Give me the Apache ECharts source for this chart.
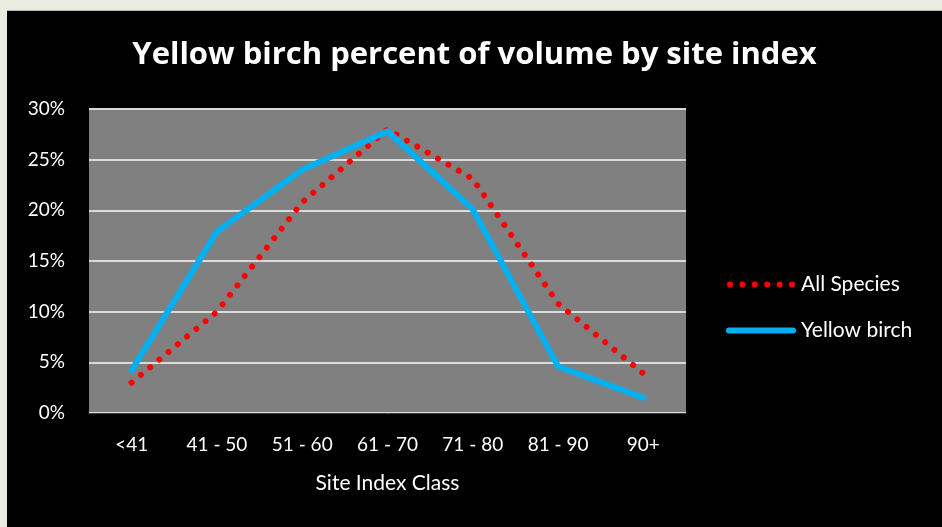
<!DOCTYPE html>
<html>
<head>
<meta charset="utf-8">
<script src="https://cdn.jsdelivr.net/npm/echarts@6/dist/echarts.min.js"></script>
<style>
  html, body { margin: 0; padding: 0; background: #ecebe1; width: 942px; height: 527px; overflow: hidden; }
  #chart { position: absolute; left: 7px; top: 10px; width: 935px; height: 517px; border-top: 1px solid #b8b8b0; box-sizing: border-box; }
</style>
</head>
<body>
<div id="chart"></div>
<script>
// site index classes and percent of volume (%)
const categories = ['<41', '41 - 50', '51 - 60', '61 - 70', '71 - 80', '81 - 90', '90+']
const allSpecies = [3.0, 10.0, 20.8, 28.0, 23.1, 10.8, 3.9]
const yellowBirch = [4.2, 17.9, 24.0, 27.8, 20.1, 4.6, 1.5]
const yTicks = [0, 5, 10, 15, 20, 25, 30]

const font = 'Lato, "Open Sans", sans-serif'

// legend icons: six round dots / a rounded bar
const dotsIcon = 'path://' + [0, 1, 2, 3, 4, 5].map((i) => {
  const x = i * 12.4
  return 'M' + x + ',3a3,3 0 1,0 6,0a3,3 0 1,0 -6,0Z'
}).join('')
const barIcon = 'path://M3,0L69,0A3,3 0 0 1 69,6L3,6A3,3 0 0 1 3,0Z'

const chart = echarts.init(document.getElementById('chart'))

chart.setOption({
  backgroundColor: '#000000',
  textStyle: { fontFamily: font },
  title: {
    text: 'Yellow birch percent of volume by site index',
    left: 'center',
    top: 24,
    textStyle: { color: '#ffffff', fontSize: 31, fontWeight: 'bold', fontFamily: '"Open Sans", sans-serif' }
  },
  legend: {
    orient: 'vertical',
    left: 714,
    top: 258,
    itemWidth: 70,
    itemHeight: 6,
    itemGap: 25,
    textStyle: { color: '#ffffff', fontSize: 21, padding: [0, 0, 0, 0] },
    data: [
      { name: 'All Species', icon: dotsIcon },
      { name: 'Yellow birch', icon: barIcon }
    ]
  },
  grid: { left: 82, right: 256, top: 98, bottom: 114, backgroundColor: '#808080', show: true, borderWidth: 0 },
  xAxis: {
    type: 'category',
    data: categories,
    boundaryGap: true,
    name: 'Site Index Class',
    nameLocation: 'middle',
    nameGap: 60,
    nameTextStyle: { color: '#ffffff', fontSize: 21 },
    axisLine: { lineStyle: { color: '#404040', width: 1 } },
    axisTick: { show: false },
    axisLabel: { color: '#ffffff', fontSize: 19, margin: 22, interval: 0 }
  },
  yAxis: {
    type: 'value',
    min: 0,
    max: 30,
    interval: 5,
    axisLine: { show: false },
    axisTick: { show: false },
    axisLabel: {
      color: '#ffffff',
      fontSize: 19,
      margin: 24,
      formatter: (v) => (yTicks.includes(v) ? v + '%' : '')
    },
    splitLine: { lineStyle: { color: '#d9d9d9', width: 2 } }
  },
  series: [
    {
      name: 'All Species',
      type: 'line',
      data: allSpecies,
      symbol: 'none',
      itemStyle: { color: '#ff0000' },
      lineStyle: { color: '#ff0000', width: 6, type: [0.01, 12], cap: 'round' },
      z: 2
    },
    {
      name: 'Yellow birch',
      type: 'line',
      data: yellowBirch,
      symbol: 'none',
      itemStyle: { color: '#00b0f0' },
      lineStyle: { color: '#00b0f0', width: 6, cap: 'round', join: 'round' },
      z: 3
    }
  ]
})
</script>
</body>
</html>
